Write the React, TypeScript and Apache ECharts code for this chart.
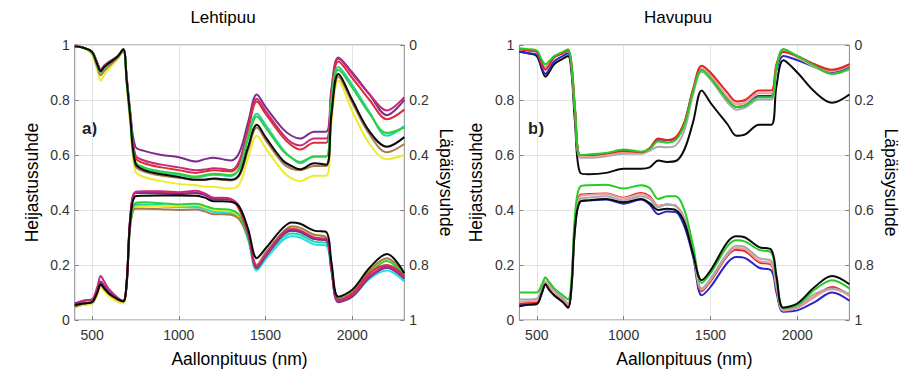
import React, { useEffect, useRef } from "react";
import * as echarts from "echarts";

// Wavelengths (nm) shared by every spectrum
const WAVELENGTHS = [400, 450, 500, 530, 550, 570, 600, 650, 680, 700, 720, 750, 800, 900, 1000, 1100, 1150, 1200, 1250, 1300, 1350, 1400, 1450, 1500, 1600, 1650, 1700, 1780, 1850, 1880, 1920, 2000, 2100, 2200, 2300];

const X_TICKS = [500, 1000, 1500, 2000];

// ---- Lehtipuu: reflectance (left axis) ----
const LEHTI_R_MAGENTA = [0.05, 0.07, 0.075, 0.12, 0.16, 0.14, 0.11, 0.08, 0.07, 0.14, 0.37, 0.465, 0.468, 0.468, 0.465, 0.47, 0.46, 0.445, 0.445, 0.44, 0.41, 0.32, 0.195, 0.235, 0.315, 0.33, 0.325, 0.3, 0.295, 0.19, 0.07, 0.09, 0.16, 0.195, 0.155];
const LEHTI_R_PURPLE = [0.06, 0.07, 0.075, 0.11, 0.14, 0.125, 0.1, 0.075, 0.068, 0.14, 0.37, 0.462, 0.462, 0.46, 0.458, 0.462, 0.455, 0.44, 0.44, 0.438, 0.41, 0.32, 0.19, 0.23, 0.31, 0.325, 0.32, 0.295, 0.29, 0.185, 0.065, 0.085, 0.155, 0.19, 0.15];
const LEHTI_R_RED = [0.05, 0.06, 0.065, 0.1, 0.13, 0.115, 0.095, 0.075, 0.068, 0.14, 0.37, 0.465, 0.465, 0.463, 0.46, 0.462, 0.455, 0.44, 0.44, 0.438, 0.4, 0.31, 0.19, 0.235, 0.315, 0.33, 0.325, 0.295, 0.29, 0.185, 0.072, 0.095, 0.17, 0.2, 0.16];
const LEHTI_R_GREEN = [0.05, 0.06, 0.065, 0.1, 0.13, 0.115, 0.095, 0.075, 0.068, 0.14, 0.35, 0.425, 0.428, 0.425, 0.42, 0.423, 0.415, 0.405, 0.403, 0.4, 0.38, 0.3, 0.19, 0.235, 0.31, 0.325, 0.32, 0.295, 0.29, 0.185, 0.075, 0.095, 0.17, 0.215, 0.16];
const LEHTI_R_TEAL = [0.05, 0.06, 0.065, 0.1, 0.13, 0.115, 0.095, 0.075, 0.068, 0.14, 0.35, 0.42, 0.42, 0.418, 0.413, 0.415, 0.408, 0.398, 0.396, 0.393, 0.375, 0.3, 0.185, 0.23, 0.3, 0.315, 0.31, 0.285, 0.28, 0.18, 0.072, 0.09, 0.16, 0.19, 0.15];
const LEHTI_R_CYAN = [0.045, 0.055, 0.06, 0.095, 0.125, 0.11, 0.09, 0.07, 0.065, 0.13, 0.34, 0.415, 0.415, 0.413, 0.41, 0.41, 0.403, 0.393, 0.39, 0.388, 0.37, 0.29, 0.18, 0.22, 0.29, 0.305, 0.3, 0.275, 0.27, 0.175, 0.07, 0.085, 0.15, 0.18, 0.14];
const LEHTI_R_BROWN = [0.05, 0.06, 0.065, 0.1, 0.13, 0.115, 0.095, 0.075, 0.068, 0.13, 0.34, 0.405, 0.405, 0.403, 0.4, 0.402, 0.395, 0.385, 0.385, 0.383, 0.365, 0.3, 0.2, 0.245, 0.32, 0.34, 0.335, 0.31, 0.3, 0.195, 0.078, 0.1, 0.18, 0.225, 0.165];
const LEHTI_R_YELLOW = [0.045, 0.055, 0.06, 0.09, 0.12, 0.105, 0.085, 0.065, 0.06, 0.13, 0.34, 0.41, 0.413, 0.415, 0.415, 0.418, 0.41, 0.4, 0.398, 0.395, 0.375, 0.31, 0.2, 0.24, 0.32, 0.34, 0.335, 0.31, 0.3, 0.195, 0.078, 0.1, 0.18, 0.225, 0.165];
const LEHTI_R_BLACK = [0.055, 0.06, 0.065, 0.1, 0.13, 0.115, 0.095, 0.075, 0.068, 0.14, 0.36, 0.45, 0.452, 0.453, 0.453, 0.452, 0.445, 0.432, 0.432, 0.43, 0.41, 0.33, 0.225, 0.26, 0.335, 0.355, 0.35, 0.325, 0.32, 0.21, 0.085, 0.11, 0.19, 0.24, 0.17];

// ---- Lehtipuu: transmittance (right axis, inverted) ----
const LEHTI_T_PURPLE = [0.005, 0.01, 0.025, 0.065, 0.09, 0.075, 0.06, 0.04, 0.015, 0.12, 0.24, 0.37, 0.385, 0.4, 0.408, 0.424, 0.415, 0.41, 0.415, 0.42, 0.39, 0.28, 0.18, 0.225, 0.305, 0.33, 0.34, 0.315, 0.315, 0.16, 0.045, 0.1, 0.18, 0.255, 0.2];
const LEHTI_T_MAGENTA = [0.0, 0.01, 0.025, 0.065, 0.09, 0.075, 0.06, 0.04, 0.015, 0.12, 0.25, 0.4, 0.42, 0.435, 0.445, 0.455, 0.453, 0.448, 0.45, 0.455, 0.42, 0.3, 0.195, 0.24, 0.325, 0.355, 0.365, 0.34, 0.34, 0.17, 0.05, 0.105, 0.18, 0.238, 0.19];
const LEHTI_T_RED = [0.005, 0.01, 0.025, 0.065, 0.095, 0.08, 0.065, 0.04, 0.015, 0.125, 0.25, 0.41, 0.43, 0.445, 0.455, 0.465, 0.46, 0.455, 0.458, 0.46, 0.43, 0.31, 0.205, 0.25, 0.335, 0.365, 0.38, 0.355, 0.355, 0.18, 0.06, 0.12, 0.2, 0.27, 0.235];
const LEHTI_T_GREEN = [0.005, 0.01, 0.025, 0.07, 0.1, 0.085, 0.065, 0.04, 0.015, 0.13, 0.255, 0.425, 0.445, 0.46, 0.468, 0.478, 0.473, 0.468, 0.47, 0.473, 0.45, 0.34, 0.26, 0.3, 0.385, 0.41, 0.425, 0.405, 0.405, 0.21, 0.09, 0.155, 0.25, 0.32, 0.3];
const LEHTI_T_TEAL = [0.005, 0.01, 0.025, 0.07, 0.1, 0.085, 0.065, 0.04, 0.015, 0.13, 0.255, 0.43, 0.45, 0.463, 0.472, 0.482, 0.477, 0.472, 0.474, 0.477, 0.445, 0.33, 0.25, 0.29, 0.38, 0.41, 0.43, 0.405, 0.405, 0.2, 0.08, 0.145, 0.245, 0.33, 0.295];
const LEHTI_T_BROWN = [0.005, 0.01, 0.03, 0.08, 0.11, 0.095, 0.075, 0.045, 0.02, 0.14, 0.27, 0.44, 0.46, 0.475, 0.483, 0.49, 0.49, 0.487, 0.49, 0.493, 0.475, 0.38, 0.3, 0.345, 0.43, 0.45, 0.455, 0.44, 0.44, 0.26, 0.115, 0.21, 0.325, 0.39, 0.36];
const LEHTI_T_YELLOW = [0.005, 0.01, 0.035, 0.09, 0.13, 0.11, 0.085, 0.05, 0.02, 0.15, 0.29, 0.46, 0.48, 0.495, 0.505, 0.51, 0.515, 0.515, 0.52, 0.522, 0.505, 0.41, 0.33, 0.375, 0.46, 0.485, 0.495, 0.475, 0.475, 0.28, 0.13, 0.24, 0.36, 0.415, 0.4];
const LEHTI_T_BLACK = [0.005, 0.01, 0.025, 0.07, 0.095, 0.08, 0.065, 0.04, 0.015, 0.13, 0.26, 0.43, 0.455, 0.47, 0.48, 0.49, 0.49, 0.485, 0.488, 0.49, 0.47, 0.37, 0.29, 0.335, 0.42, 0.44, 0.452, 0.43, 0.435, 0.25, 0.105, 0.2, 0.315, 0.37, 0.335];

// ---- Havupuu: reflectance (left axis) ----
const HAVU_R_GREEN = [0.1, 0.1, 0.1, 0.13, 0.155, 0.14, 0.115, 0.09, 0.075, 0.15, 0.38, 0.485, 0.49, 0.492, 0.478, 0.49, 0.48, 0.44, 0.45, 0.45, 0.4, 0.27, 0.135, 0.17, 0.27, 0.29, 0.285, 0.255, 0.245, 0.15, 0.045, 0.055, 0.11, 0.145, 0.115];
const HAVU_R_GRAY = [0.075, 0.075, 0.078, 0.12, 0.155, 0.135, 0.11, 0.08, 0.06, 0.13, 0.35, 0.44, 0.445, 0.45, 0.435, 0.45, 0.44, 0.41, 0.42, 0.415, 0.37, 0.25, 0.115, 0.15, 0.245, 0.27, 0.265, 0.225, 0.215, 0.13, 0.04, 0.05, 0.095, 0.115, 0.095];
const HAVU_R_PINK = [0.065, 0.068, 0.07, 0.11, 0.14, 0.125, 0.1, 0.075, 0.055, 0.13, 0.35, 0.45, 0.455, 0.458, 0.443, 0.458, 0.445, 0.415, 0.42, 0.415, 0.365, 0.25, 0.11, 0.145, 0.24, 0.262, 0.257, 0.215, 0.205, 0.12, 0.035, 0.045, 0.085, 0.112, 0.09];
const HAVU_R_RED = [0.06, 0.062, 0.065, 0.105, 0.135, 0.12, 0.095, 0.07, 0.05, 0.13, 0.35, 0.455, 0.458, 0.46, 0.445, 0.462, 0.45, 0.415, 0.42, 0.415, 0.365, 0.245, 0.105, 0.14, 0.235, 0.255, 0.25, 0.21, 0.2, 0.115, 0.035, 0.045, 0.085, 0.12, 0.088];
const HAVU_R_BLUE = [0.055, 0.058, 0.06, 0.1, 0.13, 0.115, 0.09, 0.065, 0.045, 0.12, 0.33, 0.432, 0.435, 0.438, 0.423, 0.438, 0.42, 0.385, 0.395, 0.393, 0.34, 0.23, 0.09, 0.12, 0.21, 0.229, 0.225, 0.19, 0.18, 0.1, 0.03, 0.035, 0.065, 0.1, 0.07];
const HAVU_R_BLACK = [0.05, 0.055, 0.058, 0.1, 0.13, 0.11, 0.09, 0.065, 0.045, 0.12, 0.33, 0.43, 0.435, 0.44, 0.428, 0.44, 0.425, 0.4, 0.405, 0.4, 0.355, 0.24, 0.145, 0.18, 0.285, 0.305, 0.3, 0.265, 0.255, 0.16, 0.045, 0.06, 0.12, 0.16, 0.13];

// ---- Havupuu: transmittance (right axis, inverted) ----
const HAVU_T_GREEN = [0.012, 0.015, 0.02, 0.055, 0.07, 0.06, 0.04, 0.025, 0.015, 0.07, 0.23, 0.4, 0.398, 0.393, 0.38, 0.388, 0.378, 0.35, 0.355, 0.345, 0.29, 0.17, 0.09, 0.12, 0.2, 0.225, 0.22, 0.19, 0.19, 0.08, 0.015, 0.04, 0.075, 0.105, 0.085];
const HAVU_T_GRAY = [0.015, 0.018, 0.022, 0.065, 0.08, 0.07, 0.045, 0.03, 0.02, 0.075, 0.24, 0.41, 0.41, 0.405, 0.395, 0.395, 0.385, 0.37, 0.372, 0.365, 0.31, 0.18, 0.095, 0.125, 0.21, 0.235, 0.228, 0.198, 0.198, 0.085, 0.015, 0.045, 0.08, 0.105, 0.09];
const HAVU_T_PINK = [0.015, 0.02, 0.025, 0.065, 0.085, 0.07, 0.045, 0.03, 0.02, 0.07, 0.235, 0.405, 0.405, 0.4, 0.39, 0.393, 0.38, 0.35, 0.352, 0.345, 0.29, 0.17, 0.085, 0.11, 0.19, 0.215, 0.21, 0.175, 0.175, 0.075, 0.02, 0.045, 0.075, 0.095, 0.075];
const HAVU_T_BLUE = [0.025, 0.03, 0.035, 0.085, 0.105, 0.09, 0.06, 0.04, 0.03, 0.08, 0.24, 0.4, 0.4, 0.395, 0.385, 0.39, 0.378, 0.345, 0.35, 0.34, 0.285, 0.165, 0.095, 0.12, 0.2, 0.225, 0.22, 0.185, 0.185, 0.09, 0.04, 0.055, 0.08, 0.1, 0.08];
const HAVU_T_RED = [0.015, 0.02, 0.025, 0.07, 0.09, 0.075, 0.045, 0.03, 0.02, 0.07, 0.23, 0.4, 0.4, 0.395, 0.385, 0.39, 0.375, 0.34, 0.345, 0.335, 0.28, 0.16, 0.075, 0.1, 0.175, 0.205, 0.2, 0.165, 0.165, 0.07, 0.025, 0.04, 0.07, 0.09, 0.07];
const HAVU_T_BLACK = [0.024, 0.03, 0.04, 0.09, 0.115, 0.1, 0.07, 0.05, 0.04, 0.1, 0.28, 0.465, 0.47, 0.465, 0.45, 0.45, 0.445, 0.42, 0.425, 0.422, 0.38, 0.28, 0.165, 0.21, 0.29, 0.33, 0.325, 0.29, 0.29, 0.15, 0.055, 0.1, 0.17, 0.21, 0.18];

const C = {
  magenta: "#c8287e",
  purple: "#7e2c8c",
  red: "#dc2f36",
  green: "#2fcf3c",
  teal: "#1fd6a8",
  cyan: "#27dde6",
  brown: "#a97b4b",
  yellow: "#ecec2c",
  black: "#0a0a0a",
  gray: "#a8a8a8",
  pink: "#f39c9c",
  blue: "#2727c8",
  hgreen: "#25cc25",
  hred: "#e22424",
};

const FONT = "'Liberation Sans', Arial, Helvetica, sans-serif";

function mk(name: string, data: number[], color: string, xi: number, yi: number) {
  return {
    type: "line",
    name,
    xAxisIndex: xi,
    yAxisIndex: yi,
    data: WAVELENGTHS.map((w, i) => [w, data[i]]),
    showSymbol: false,
    symbol: "none",
    smooth: 0.35,
    silent: true,
    lineStyle: { color, width: 2 },
    itemStyle: { color },
  };
}

function xAxisCfg(gi: number) {
  return {
    type: "value",
    gridIndex: gi,
    min: 400,
    max: 2300,
    axisLine: { show: false },
    axisTick: { show: true, inside: true, length: 4, customValues: X_TICKS, lineStyle: { color: "#7f7f7f" } },
    axisLabel: { customValues: X_TICKS, color: "#333", fontSize: 14, fontFamily: FONT, margin: 8, formatter: (v: number) => String(v) },
    splitLine: { show: true, lineStyle: { color: "#e3e3e3", width: 1 } },
    name: "Aallonpituus (nm)",
    nameLocation: "middle",
    nameGap: 30,
    nameTextStyle: { color: "#000", fontSize: 17.5, fontFamily: FONT },
  };
}

function yLeft(gi: number) {
  return {
    type: "value",
    gridIndex: gi,
    min: 0,
    max: 1,
    interval: 0.2,
    axisLine: { show: false },
    axisTick: { show: true, inside: true, length: 4, lineStyle: { color: "#7f7f7f" } },
    axisLabel: { color: "#333", fontSize: 14, fontFamily: FONT, margin: 5 },
    splitLine: { show: true, lineStyle: { color: "#e3e3e3", width: 1 } },
    name: "Heijastussuhde",
    nameLocation: "middle",
    nameGap: 34,
    nameTextStyle: { color: "#000", fontSize: 17.5, fontFamily: FONT },
  };
}

function yRight(gi: number) {
  return {
    type: "value",
    gridIndex: gi,
    position: "right",
    inverse: true,
    min: 0,
    max: 1,
    interval: 0.2,
    axisLine: { show: false },
    axisTick: { show: true, inside: true, length: 4, lineStyle: { color: "#7f7f7f" } },
    axisLabel: { color: "#333", fontSize: 14, fontFamily: FONT, margin: 5 },
    splitLine: { show: false },
    name: "Läpäisysuhde",
    nameLocation: "middle",
    nameRotate: -90,
    nameGap: 33,
    nameTextStyle: { color: "#000", fontSize: 17.5, fontFamily: FONT },
  };
}

export default function App() {
  const ref = useRef<HTMLDivElement>(null);
  useEffect(() => {
    if (!ref.current) return;
    const chart = echarts.init(ref.current, undefined, { renderer: "svg" });
    const series = [
      // Lehtipuu transmittance
      mk("L-T purple", LEHTI_T_PURPLE, C.purple, 0, 1),
      mk("L-T magenta", LEHTI_T_MAGENTA, C.magenta, 0, 1),
      mk("L-T red", LEHTI_T_RED, C.red, 0, 1),
      mk("L-T yellow", LEHTI_T_YELLOW, C.yellow, 0, 1),
      mk("L-T brown", LEHTI_T_BROWN, C.brown, 0, 1),
      mk("L-T teal", LEHTI_T_TEAL, C.teal, 0, 1),
      mk("L-T green", LEHTI_T_GREEN, C.green, 0, 1),
      mk("L-T black", LEHTI_T_BLACK, C.black, 0, 1),
      // Lehtipuu reflectance
      mk("L-R cyan", LEHTI_R_CYAN, C.cyan, 0, 0),
      mk("L-R teal", LEHTI_R_TEAL, C.teal, 0, 0),
      mk("L-R yellow", LEHTI_R_YELLOW, C.yellow, 0, 0),
      mk("L-R brown", LEHTI_R_BROWN, C.brown, 0, 0),
      mk("L-R green", LEHTI_R_GREEN, C.green, 0, 0),
      mk("L-R red", LEHTI_R_RED, C.red, 0, 0),
      mk("L-R purple", LEHTI_R_PURPLE, C.purple, 0, 0),
      mk("L-R magenta", LEHTI_R_MAGENTA, C.magenta, 0, 0),
      mk("L-R black", LEHTI_R_BLACK, C.black, 0, 0),
      // Havupuu transmittance
      mk("H-T black", HAVU_T_BLACK, C.black, 1, 3),
      mk("H-T blue", HAVU_T_BLUE, C.blue, 1, 3),
      mk("H-T gray", HAVU_T_GRAY, C.gray, 1, 3),
      mk("H-T pink", HAVU_T_PINK, C.pink, 1, 3),
      mk("H-T red", HAVU_T_RED, C.hred, 1, 3),
      mk("H-T green", HAVU_T_GREEN, C.hgreen, 1, 3),
      // Havupuu reflectance
      mk("H-R blue", HAVU_R_BLUE, C.blue, 1, 2),
      mk("H-R red", HAVU_R_RED, C.hred, 1, 2),
      mk("H-R pink", HAVU_R_PINK, C.pink, 1, 2),
      mk("H-R gray", HAVU_R_GRAY, C.gray, 1, 2),
      mk("H-R green", HAVU_R_GREEN, C.hgreen, 1, 2),
      mk("H-R black", HAVU_R_BLACK, C.black, 1, 2),
    ];
    chart.setOption({
      animation: false,
      backgroundColor: "#ffffff",
      textStyle: { fontFamily: FONT },
      grid: [
        { left: 74.7, top: 45, width: 329.6, height: 275, show: true, borderColor: "#8a8a8a", borderWidth: 1, backgroundColor: "transparent" },
        { left: 519.4, top: 45, width: 330, height: 275, show: true, borderColor: "#8a8a8a", borderWidth: 1, backgroundColor: "transparent" },
      ],
      xAxis: [xAxisCfg(0), xAxisCfg(1)],
      yAxis: [yLeft(0), yRight(0), yLeft(1), yRight(1)],
      series,
      graphic: [
        { type: "text", x: 223, y: 17, style: { text: "Lehtipuu", fontSize: 17, fontFamily: FONT, fill: "#000", align: "center", verticalAlign: "middle" } },
        { type: "text", x: 678, y: 17, style: { text: "Havupuu", fontSize: 17, fontFamily: FONT, fill: "#000", align: "center", verticalAlign: "middle" } },
        { type: "text", x: 82, y: 128, style: { text: "a)", fontSize: 17, fontWeight: "bold", fontFamily: FONT, fill: "#222", align: "left", verticalAlign: "middle" } },
        { type: "text", x: 528, y: 128, style: { text: "b)", fontSize: 17, fontWeight: "bold", fontFamily: FONT, fill: "#222", align: "left", verticalAlign: "middle" } },
      ],
    });
    return () => chart.dispose();
  }, []);
  return <div ref={ref} style={{ position: "fixed", left: 0, top: 0, width: 915, height: 375, background: "#fff" }} />;
}
